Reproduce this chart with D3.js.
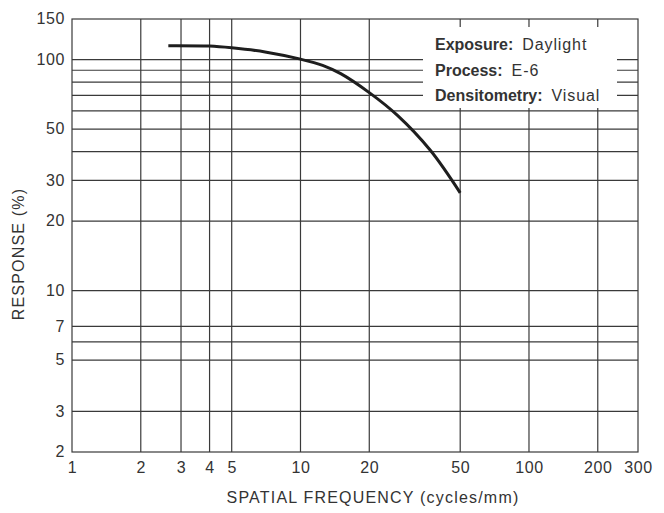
<!DOCTYPE html>
<html>
<head>
<meta charset="utf-8">
<script src="https://cdn.jsdelivr.net/npm/d3@7"></script>
<style>
  body { margin: 0; background: #fff; }
  svg { display: block; }
  text { font-family: "Liberation Sans", Arial, sans-serif; fill: #333; }
</style>
</head>
<body>
<svg width="664" height="513"></svg>
<script>
// curve (cycles/mm, response %)
var freq = [2.64, 4, 5, 7, 10, 12.5, 15, 20, 26.5, 37, 50];
var response = [115, 114.5, 112.5, 108, 100.5, 94.5, 87, 72, 57.5, 40.5, 26.5];

// grid and tick values
var xGrid = [2, 3, 4, 5, 10, 20, 50, 100, 200];
var yGrid = [3, 5, 6, 7, 10, 20, 30, 40, 50, 60, 70, 80, 90, 100];
var xTicks = [1, 2, 3, 4, 5, 10, 20, 50, 100, 200, 300];
var yTicks = [2, 3, 5, 7, 10, 20, 30, 50, 100, 150];

// legend lines
var legendKeys = ["Exposure:", "Process:", "Densitometry:"];
var legendValues = ["Daylight", "E-6", "Visual"];

var svg = d3.select("svg");
var ink = "#3a3a3a";

var x = d3.scaleLog().domain([1, 300]).range([72, 638]);
var y = d3.scaleLog().domain([2, 150]).range([452, 19]);

// grid
var grid = svg.append("g").attr("stroke", ink).attr("stroke-width", 1.2);
grid.selectAll("line.h").data(yGrid).enter().append("line")
  .attr("class", "h")
  .attr("x1", x(1)).attr("x2", x(300))
  .attr("y1", function (d) { return y(d); })
  .attr("y2", function (d) { return y(d); });
grid.selectAll("line.v").data(xGrid).enter().append("line")
  .attr("class", "v")
  .attr("y1", y(2)).attr("y2", y(150))
  .attr("x1", function (d) { return x(d); })
  .attr("x2", function (d) { return x(d); });

// legend box hides the grid behind it
svg.append("rect")
  .attr("x", 423).attr("y", 27)
  .attr("width", 194).attr("height", 81)
  .attr("fill", "#fff");

// frame
svg.append("rect")
  .attr("x", x(1)).attr("y", y(150))
  .attr("width", x(300) - x(1)).attr("height", y(2) - y(150))
  .attr("fill", "none").attr("stroke", ink).attr("stroke-width", 1.2);

// curve
var pts = freq.map(function (f, i) { return [f, response[i]]; });
var line = d3.line()
  .x(function (d) { return x(d[0]); })
  .y(function (d) { return y(d[1]); })
  .curve(d3.curveCatmullRom.alpha(0.5));
svg.append("path")
  .datum(pts)
  .attr("d", line)
  .attr("fill", "none")
  .attr("stroke", "#1e1e1e")
  .attr("stroke-width", 3);

// axes (labels only)
var xAxis = svg.append("g")
  .attr("transform", "translate(0," + y(2) + ")")
  .call(d3.axisBottom(x).tickValues(xTicks).tickFormat(d3.format("d")).tickSize(0).tickPadding(10));
var yAxis = svg.append("g")
  .attr("transform", "translate(" + x(1) + ",0)")
  .call(d3.axisLeft(y).tickValues(yTicks).tickFormat(d3.format("d")).tickSize(0).tickPadding(7));
[xAxis, yAxis].forEach(function (a) {
  a.select(".domain").remove();
  a.selectAll("text")
    .attr("font-family", "Liberation Sans, Arial, sans-serif")
    .attr("font-size", 16)
    .attr("letter-spacing", 0.6)
    .attr("fill", "#333");
});
yAxis.selectAll("text").attr("dy", "0.3em");

// axis titles
svg.append("text")
  .attr("x", 373).attr("y", 503)
  .attr("text-anchor", "middle")
  .attr("font-size", 16)
  .attr("letter-spacing", 1.2)
  .text("SPATIAL FREQUENCY (cycles/mm)");
svg.append("text")
  .attr("transform", "translate(24,254) rotate(-90)")
  .attr("text-anchor", "middle")
  .attr("font-size", 16)
  .attr("letter-spacing", 1.2)
  .text("RESPONSE (%)");

// legend
var leg = svg.append("g");
legendKeys.forEach(function (k, i) {
  var t = leg.append("text")
    .attr("x", 435)
    .attr("y", 50 + i * 25.5)
    .attr("font-size", 16);
  t.append("tspan").attr("font-weight", "bold").text(k);
  t.append("tspan").attr("dx", 9).attr("letter-spacing", 0.9).text(legendValues[i]);
});
</script>
</body>
</html>
